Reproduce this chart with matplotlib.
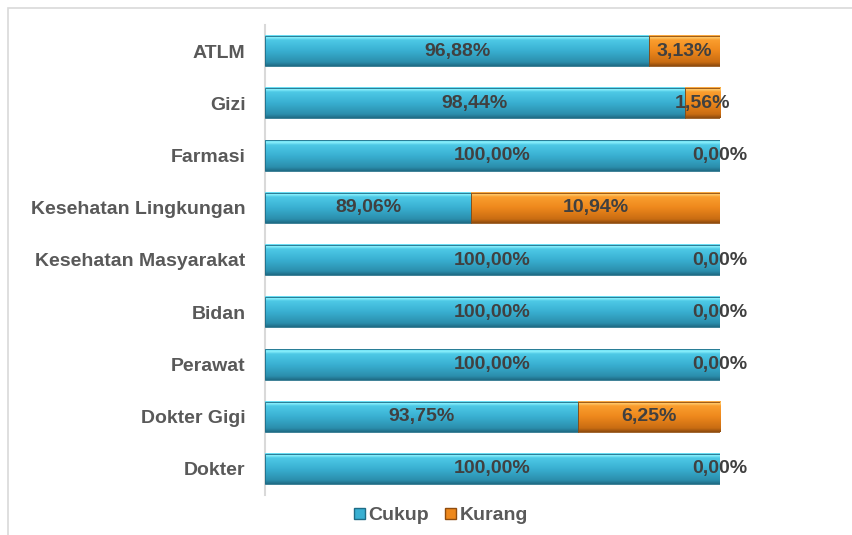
import numpy as np
import matplotlib
matplotlib.use('Agg')
import matplotlib.pyplot as plt
from matplotlib.colors import LinearSegmentedColormap
from matplotlib.patches import Rectangle

plt.rcParams['font.family'] = ['Liberation Sans', 'DejaVu Sans']
plt.rcParams['font.weight'] = 'bold'

## data (top to bottom in the picture)
categories = ['ATLM', 'Gizi', 'Farmasi', 'Kesehatan Lingkungan',
              'Kesehatan Masyarakat', 'Bidan', 'Perawat', 'Dokter Gigi', 'Dokter']
cukup = [96.88, 98.44, 100.00, 89.06, 100.00, 100.00, 100.00, 93.75, 100.00]
kurang = [3.13, 1.56, 0.00, 10.94, 0.00, 0.00, 0.00, 6.25, 0.00]
series_names = ['Cukup', 'Kurang']
x_min, x_max = 80, 100

# bottom-up for barh
cats = categories[::-1]
c_vals = np.array(cukup[::-1])
k_vals = np.array(kurang[::-1])
ypos = np.arange(len(cats))

cyan_cm = LinearSegmentedColormap.from_list(
    'cy', [(0, '#1f6c86'), (0.12, '#2b8eac'), (0.5, '#39b0d2'),
           (0.85, '#4ec9e6'), (0.93, '#8af0fc'), (1, '#62d9f1')])
orange_cm = LinearSegmentedColormap.from_list(
    'or', [(0, '#8f4c0e'), (0.12, '#c96c12'), (0.5, '#ee881c'),
           (0.85, '#fa9e2e'), (0.93, '#ffc96c'), (1, '#f9a53a')])
grad = np.linspace(1, 0, 64).reshape(-1, 1)

fig = plt.figure(figsize=(8.52, 5.35), dpi=100)
# outer chart border
fig.patches.append(Rectangle((8 / 852, -0.01), 1.0, 1 - 8 / 535 + 0.01,
                             transform=fig.transFigure, fill=False,
                             edgecolor='#d9d9d9', linewidth=1.2))
ax = fig.add_axes([265 / 852, 40 / 535, 455 / 852, 470 / 535])

h = 0.58
b1 = ax.barh(ypos, c_vals, height=h, color='#39b0d2', label=series_names[0])
b2 = ax.barh(ypos, k_vals, left=c_vals, height=h, color='#ee881c', label=series_names[1])

# gradient fill on each bar segment
for bars, cm, edge in [(b1, cyan_cm, '#1f6c86'), (b2, orange_cm, '#8f4c0e')]:
    for r in bars:
        x0, y0, w, hh = r.get_x(), r.get_y(), r.get_width(), r.get_height()
        if w <= 0:
            continue
        x0c = max(x0, x_min)
        ax.imshow(grad, cmap=cm, aspect='auto', origin='upper',
                  extent=[x0c, x0 + w, y0, y0 + hh], zorder=3)
        ax.add_patch(Rectangle((x0c, y0), x0 + w - x0c, hh, fill=False,
                               edgecolor=edge, linewidth=0.6, zorder=4))

# data labels
for i in range(len(cats)):
    cx = (max(0, x_min) + c_vals[i]) / 2
    ax.text(cx, ypos[i], f'{c_vals[i]:.2f}%'.replace('.', ','), ha='center', va='center',
            fontsize=14, color='#404040', fontweight='bold', zorder=5)
    kx = c_vals[i] + k_vals[i] / 2
    ax.text(kx, ypos[i], f'{k_vals[i]:.2f}%'.replace('.', ','), ha='center', va='center',
            fontsize=14, color='#404040', fontweight='bold', zorder=5)

ax.set_xlim(x_min, x_max)
ax.set_ylim(-0.5, len(cats) - 0.5)
ax.set_yticks(ypos)
ax.set_yticklabels(cats, fontsize=14, color='#595959', fontweight='bold')
ax.tick_params(axis='y', length=0, pad=14)
ax.set_xticks([])
for s in ['top', 'right', 'bottom']:
    ax.spines[s].set_visible(False)
ax.spines['left'].set_color('#d9d9d9')
ax.spines['left'].set_linewidth(1.5)

# legend
handles = [Rectangle((0, 0), 1, 1, facecolor='#39b0d2', edgecolor='#1f6c86'),
           Rectangle((0, 0), 1, 1, facecolor='#ee881c', edgecolor='#8f4c0e')]
fig.legend(handles, series_names, loc='center', bbox_to_anchor=(441 / 852, 1 - 516 / 535),
           ncol=2, frameon=False, fontsize=14, handlelength=0.55, handleheight=0.55,
           handletextpad=0.2, columnspacing=0.8, labelcolor='#595959')

fig.savefig('out.png', dpi=100)
